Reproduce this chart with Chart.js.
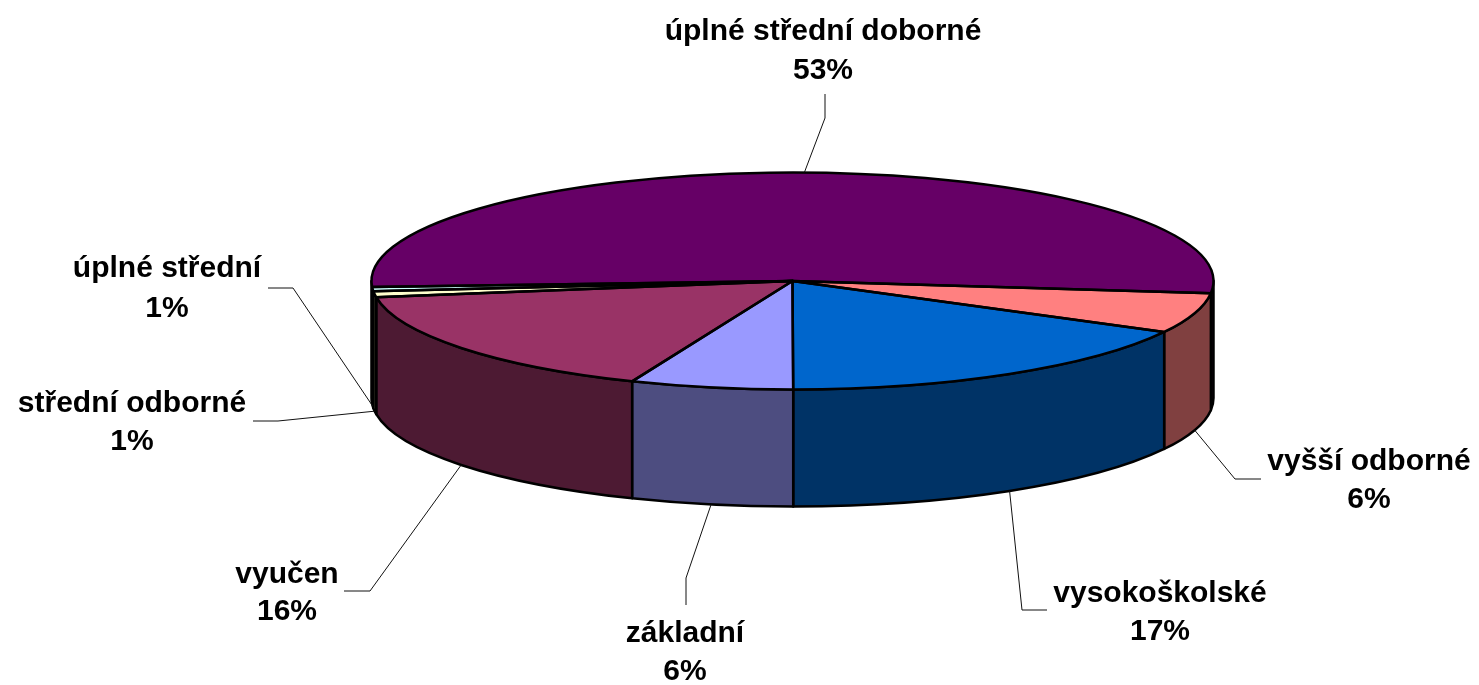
<!DOCTYPE html>
<html><head><meta charset="utf-8">
<script src="https://cdn.jsdelivr.net/npm/chart.js@4"></script>
<style>html,body{margin:0;padding:0;background:#fff;}#wrap{width:1479px;height:685px;position:relative;}</style>
</head><body><div id="wrap"><canvas id="c"></canvas></div>
<script>
// ---- data ----
const categories = ['úplné střední doborné','vyšší odborné','vysokoškolské','základní','vyučen','střední odborné','úplné střední'];
const values = [52.7, 6.0, 17.2, 6.25, 16.4, 0.9, 0.6];
const total = values.reduce((a,b)=>a+b,0);
const percentLabels = values.map(v => Math.round(v/total*100) + '%');

// ---- styles ----
const topColors  = ['#660066','#FF8080','#0066CC','#9999FF','#993366','#FFFFCC','#CCFFFF'];
const sideColors = ['#330033','#804040','#003366','#4D4D80','#4D1A33','#A3A37F','#668080'];
const geo = {cx:792.5, cy:281, rx:421, ry:108.5, depth:117};
// label layout: text centre x, first baseline y, second baseline y, leader path (from label side to elbow)
const labelLayout = [
  {x:823,  y1:40,  y2:79,  path:[[825,94],[825,118]]},
  {x:1369, y1:470, y2:508, path:[[1261,479],[1235,479]]},
  {x:1160, y1:602, y2:640, path:[[1047,610],[1022,610]]},
  {x:685,  y1:642, y2:680, path:[[686,605],[686,578]]},
  {x:287,  y1:583, y2:620, path:[[344,591],[370,591]]},
  {x:132,  y1:412, y2:450, path:[[253,421],[278,421]]},
  {x:167,  y1:277, y2:317, path:[[268,288],[293,288]]}
];
const FONT = 'bold 30px "Liberation Sans", Arial, Helvetica, sans-serif';
const OUTLINE = 2.5;

function pt(t, dy){ return [geo.cx + geo.rx*Math.cos(t), geo.cy + geo.ry*Math.sin(t) + (dy||0)]; }

const pie3d = {
  id:'pie3d',
  beforeDatasetsDraw(chart){
    const ctx = chart.ctx;
    const arcs = chart.getDatasetMeta(0).data;
    const TAU = Math.PI*2;
    ctx.save();
    ctx.lineWidth = OUTLINE; ctx.strokeStyle = '#000'; ctx.lineJoin = 'round';
    arcs.forEach((arc,i)=>{
      const p = arc.getProps(['startAngle','endAngle'], true);
      const s = p.startAngle, e = p.endAngle;
      for (let k=-1;k<=2;k++){
        const lo = TAU*k, hi = TAU*k + Math.PI;
        const a = Math.max(s, lo), b = Math.min(e, hi);
        if (b - a > 1e-6){
          const a0 = a - lo, b0 = b - lo;
          ctx.beginPath();
          ctx.ellipse(geo.cx, geo.cy, geo.rx, geo.ry, 0, a0, b0, false);
          ctx.ellipse(geo.cx, geo.cy+geo.depth, geo.rx, geo.ry, 0, b0, a0, true);
          ctx.closePath();
          ctx.fillStyle = sideColors[i];
          ctx.fill(); ctx.stroke();
        }
      }
    });
    ctx.restore();
    const g = arcs[0].getProps(['x','y','outerRadius'], true);
    ctx.save();
    ctx.translate(geo.cx, geo.cy);
    ctx.scale(geo.rx/g.outerRadius, geo.ry/g.outerRadius);
    ctx.translate(-g.x, -g.y);
  },
  afterDatasetsDraw(chart){
    const ctx = chart.ctx;
    ctx.restore();
    const arcs = chart.getDatasetMeta(0).data;
    ctx.save();
    ctx.lineWidth = OUTLINE; ctx.strokeStyle = '#000'; ctx.lineJoin = 'round';
    arcs.forEach(arc=>{
      const p = arc.getProps(['startAngle','endAngle'], true);
      const st = pt(p.startAngle);
      ctx.beginPath();
      ctx.moveTo(geo.cx, geo.cy);
      ctx.lineTo(st[0], st[1]);
      ctx.ellipse(geo.cx, geo.cy, geo.rx, geo.ry, 0, p.startAngle, p.endAngle, false);
      ctx.closePath();
      ctx.stroke();
    });
    // leader lines
    ctx.lineWidth = 1; ctx.strokeStyle = '#111';
    arcs.forEach((arc,i)=>{
      const p = arc.getProps(['startAngle','endAngle'], true);
      const m = (p.startAngle + p.endAngle)/2;
      const anchor = Math.sin(m) > 0 ? pt(m, geo.depth) : pt(m);
      const L = labelLayout[i];
      ctx.beginPath();
      ctx.moveTo(L.path[0][0], L.path[0][1]);
      for (let j=1;j<L.path.length;j++) ctx.lineTo(L.path[j][0], L.path[j][1]);
      ctx.lineTo(anchor[0], anchor[1]);
      ctx.stroke();
    });
    // labels
    ctx.fillStyle = '#000'; ctx.font = FONT; ctx.textAlign = 'center'; ctx.textBaseline = 'alphabetic';
    categories.forEach((c,i)=>{
      const L = labelLayout[i];
      ctx.fillText(c, L.x, L.y1);
      ctx.fillText(percentLabels[i], L.x, L.y2);
    });
    ctx.restore();
  }
};

new Chart(document.getElementById('c'), {
  type:'pie',
  data:{ labels:categories, datasets:[{ data:values, backgroundColor:topColors, borderWidth:0, hoverOffset:0 }] },
  options:{
    responsive:true, maintainAspectRatio:false, animation:false, events:[],
    rotation: 266.8,
    plugins:{ legend:{display:false}, tooltip:{enabled:false} }
  },
  plugins:[pie3d]
});
</script></body></html>
